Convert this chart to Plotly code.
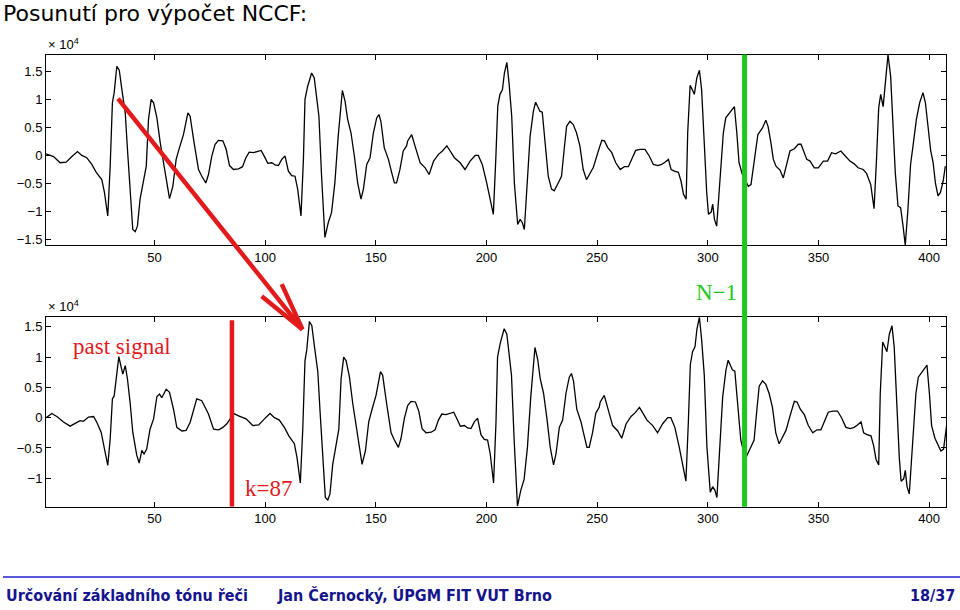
import plotly.graph_objects as go

# ---- data (amplitudes in units of 10^4) ----
K = 87  # shift between the two panels

# current frame (upper panel), sample index n and value
frame_n = [1, 4.4, 7.4, 10.1, 12.7, 15.2, 17.2, 19.4, 21.7, 23.7, 26.2, 27.4, 28.9, 30.0, 31.0, 31.8,
           33.0, 34.1, 35.3, 36.8, 37.8, 39.0, 40.2, 41.3, 42.3, 43.5, 45.0, 46.3, 47.3, 48.5, 49.6,
           51.1, 52.6, 54.1, 55.6, 56.8, 58.3, 59.8, 61.3, 63.1, 65.1, 66.1, 67.9, 69.9, 71.4, 73.2,
           74.4, 75.9, 77.4, 78.9, 80.9, 82.4, 83.9,
           85.7, 88.0, 89.8, 91.3, 92.8, 94.7, 96.7, 98.2, 99.7, 101.2, 103.0, 104.5, 106.0, 107.5,
           109.0, 110.5, 112.0, 113.5, 114.7, 116.2, 117.3, 118.0, 119.2, 121.0, 122.2, 123.3, 124.3,
           125.5, 127.0, 128.5, 130.0, 131.5, 133.0, 134.9, 136.1, 137.3, 138.8, 140.3, 141.8, 143.3,
           144.4, 145.9, 147.4, 148.9, 150.4, 151.4, 152.3, 153.8, 155.7, 157.2, 158.4, 159.4, 160.9,
           162.4, 163.9,
           164.4, 166.2, 167.7, 170.0, 172.3, 174.1, 176.1, 178.3, 180.1, 182.1, 183.6, 185.5, 188.1,
           190.3, 192.6, 194.9, 196.3, 198.1, 200.1, 201.6, 203.1, 204.2, 205.1, 206.1, 207.2, 208.1,
           209.2, 210.2, 211.4, 212.6, 214.1, 215.2, 216.2, 217.1, 218.2, 219.7, 221.2, 222.2, 223.4,
           224.1, 225.2, 226.4, 227.9, 229.4, 230.6, 232.4, 233.9, 235.1, 236.2, 237.7, 239.2, 240.7,
           242.2, 243.7, 245.2,
           246.5, 248.3, 250.3, 252.1, 253.3, 254.8, 256.6, 258.4, 260.4, 262.3, 264.1, 265.6, 267.4,
           269.4, 271.6, 273.4, 275.4, 277.4, 279.1, 280.6, 282.2, 283.4, 284.9, 286.7, 287.9, 289.0,
           290.2, 290.9, 292.0, 293.0, 293.9, 295.0, 296.2, 297.2, 298.4, 299.5, 300.3, 301.5, 302.2,
           303.0, 304.0, 304.8, 306.0, 307.0, 308.1, 309.3, 310.8, 312.0, 313.1, 314.1, 315.6, 317.2,
           318.3, 319.5, 321.1, 322.6, 323.6, 324.7, 326.2,
           327.2, 328.4, 329.6, 330.8, 332.6, 334.1, 335.6, 337.1, 339.1, 340.9, 342.1, 343.2, 344.7,
           346.2, 348.1, 349.9, 352.2, 354.1, 355.9, 357.7, 360.1, 361.9, 364.2, 366.1, 367.9, 370.2,
           371.7, 373.6, 375.1, 376.2, 377.2, 378.1, 379.2, 380.2, 381.4, 382.6, 383.7, 384.7, 385.9,
           387.1, 388.2, 389.2, 390.4, 391.6, 392.7, 394.2, 395.7, 397.2, 398.3, 399.5, 400.7, 401.8,
           402.8, 404.0, 405.1, 406.3, 407.3]
frame_v = [0.03, -0.02, -0.13, -0.12, -0.02, 0.07, 0.0, -0.04, -0.16, -0.30, -0.43, -0.66, -1.08, -0.19, 0.94, 1.12,
           1.59, 1.52, 1.17, 0.76, 0.11, -0.66, -1.32, -1.36, -1.26, -0.78, -0.49, -0.19, 0.64, 1.0, 0.94,
           0.67, 0.23, -0.13, -0.55, -0.77, -0.55, -0.07, 0.14, 0.37, 0.76, 0.70, 0.23, -0.25, -0.37, -0.49,
           -0.34, -0.01, 0.20, 0.27, 0.26, 0.11, -0.18,
           -0.25, -0.24, -0.20, -0.04, 0.06, 0.05, 0.08, 0.09, -0.02, -0.14, -0.13, -0.17, -0.18, -0.07,
           -0.01, -0.28, -0.36, -0.37, -0.60, -1.08, -0.07, 1.0, 1.23, 1.47, 1.38, 1.06, 0.70,
           -0.37, -1.46, -1.20, -1.02, -0.49, 0.34, 1.16, 0.97, 0.64, 0.40, -0.01, -0.49, -0.78,
           -0.60, -0.16, -0.04, 0.40, 0.67, 0.73, 0.61, 0.14, -0.07, -0.31, -0.49, -0.49, -0.25,
           0.08, 0.17,
           0.26, 0.37, 0.17, -0.13, -0.22, -0.34, -0.10, 0.02, 0.08, 0.17, 0.08, -0.04, -0.13,
           -0.25, -0.10, 0.0, 0.0, -0.16, -0.49, -0.78, -1.05, -0.07, 0.88, 1.09, 1.17, 1.47,
           1.66, 1.29, 0.70, -0.49, -1.23, -1.14, -1.20, -1.32, -0.60, 0.34, 0.79, 0.95, 0.85,
           0.79, 0.77, 0.23, -0.37, -0.60, -0.63, -0.49, -0.37, 0.11, 0.52, 0.61, 0.55, 0.40,
           0.17, -0.25, -0.43,
           -0.34, -0.21, 0.05, 0.27, 0.26, 0.14, 0.05, -0.13, -0.25, -0.20, -0.20, -0.06, 0.09,
           0.11, 0.11, 0.0, -0.16, -0.18, -0.16, -0.12, -0.07, -0.25, -0.28, -0.30, -0.46, -0.69,
           -0.78, 0.40, 1.25, 1.17, 1.09, 1.38, 1.52, 1.17, 0.11, -0.66, -1.05, -1.01, -0.87,
           -1.14, -1.26, -0.78, -0.07, 0.40, 0.67, 0.73, 0.79, 0.87, 0.40, -0.13, -0.34, -0.46,
           -0.55, -0.52, -0.07, 0.37, 0.43, 0.49, 0.63,
           0.52, 0.25, -0.07, -0.19, -0.26, -0.40, -0.16, 0.08, 0.12, 0.20, 0.20, 0.08, -0.07,
           -0.10, -0.22, -0.22, -0.10, -0.10, 0.05, 0.03, 0.08, 0.0, -0.10, -0.15, -0.22, -0.25,
           -0.32, -0.52, -0.95, -0.07, 0.85, 1.09, 0.87, 1.29, 1.80, 1.41, 0.58, -0.31, -0.90,
           -0.93, -1.26, -1.60, -0.96, -0.16, 0.17, 0.64, 0.94, 1.12, 0.94, 0.46, 0.08, -0.13,
           -0.49, -0.72, -0.66, -0.46, -0.19]

# past signal (lower panel, before the frame start)
past_n = [1.1, 3.6, 5.9, 8.9, 11.9, 14.2, 16.4, 17.9, 20.2, 22.5, 24.0, 25.9, 27.4, 28.9, 30.0, 31.0,
          31.8, 32.7, 33.9, 34.8, 35.7, 36.8, 37.8, 39.0, 40.2, 42.0, 43.1, 44.3, 45.3, 46.5, 48.0,
          49.6, 51.1, 52.3, 53.3, 55.3, 56.8, 58.6, 60.1, 62.4, 64.3, 66.1, 67.6, 69.1, 71.4, 72.9,
          74.4, 76.7, 79.0, 80.9, 82.7, 84.2, 85.7]
past_v = [0.0, 0.07, 0.02, -0.07, -0.14, -0.10, -0.05, -0.06, 0.01, 0.02, -0.08, -0.24, -0.49, -0.79, -0.35, 0.31,
          0.36, 0.69, 1.01, 0.86, 0.72, 0.86, 0.64, 0.25, -0.24, -0.62, -0.75, -0.54, -0.60, -0.52, -0.19,
          -0.02, 0.35, 0.39, 0.33, 0.47, 0.42, 0.14, -0.16, -0.22, -0.21, -0.08, 0.14, 0.31, 0.28, 0.17,
          0.06, -0.19, -0.20, -0.16, -0.10, -0.02, 0.07]

x_ticks = [50, 100, 150, 200, 250, 300, 350, 400]
y1_ticks = [1.5, 1, 0.5, 0, -0.5, -1, -1.5]
y1_text = ["1.5", "1", "0.5", "0", "\u22120.5", "\u22121", "\u22121.5"]
y2_ticks = [1.5, 1, 0.5, 0, -0.5, -1]
y2_text = ["1.5", "1", "0.5", "0", "\u22120.5", "\u22121"]

N_MINUS_1 = 316.6
K_LINE = 85

bottom_x = past_n + [n + K for n in frame_n]
bottom_y = past_v + frame_v

W, H = 960, 610
def px(x):
    return x / W
def py(y):
    return 1 - y / H

RED = "#e31a1c"
GREEN = "#1ec81e"
TICKFONT = dict(family="Liberation Sans, Arial, sans-serif", size=13, color="black")

fig = go.Figure()
fig.add_trace(go.Scatter(x=frame_n, y=frame_v, xaxis="x", yaxis="y", mode="lines",
                         line=dict(color="black", width=1.3), showlegend=False, hoverinfo="skip"))
fig.add_trace(go.Scatter(x=bottom_x, y=bottom_y, xaxis="x2", yaxis="y2", mode="lines",
                         line=dict(color="black", width=1.3), showlegend=False, hoverinfo="skip"))

axis_common = dict(showline=True, linecolor="black", linewidth=1, mirror="ticks", ticks="inside",
                   ticklen=5, tickcolor="black", showgrid=False, zeroline=False, tickfont=TICKFONT)

xdom = [px(46), px(946)]
fig.update_layout(
    width=W, height=H, autosize=False,
    margin=dict(l=0, r=0, t=0, b=0),
    paper_bgcolor="white", plot_bgcolor="white",
    xaxis=dict(domain=xdom, range=[1, 407.6], anchor="y", tickvals=x_ticks, **axis_common),
    yaxis=dict(domain=[py(246), py(54.7)], range=[-1.60, 1.80], anchor="x",
               tickvals=y1_ticks, ticktext=y1_text, **axis_common),
    xaxis2=dict(domain=xdom, range=[1, 407.6], anchor="y2", tickvals=x_ticks, **axis_common),
    yaxis2=dict(domain=[py(508.3), py(318.3)], range=[-1.47, 1.66], anchor="x2",
                tickvals=y2_ticks, ticktext=y2_text, **axis_common),
)

shapes = []
# arrow (shaft + open head)
tip = (302.5, 330.5)
for (x0, y0) in [(118, 99), (261.7, 297.3), (281.7, 285)]:
    shapes.append(dict(type="line", xref="paper", yref="paper", x0=px(x0), y0=py(y0),
                       x1=px(tip[0]), y1=py(tip[1]), line=dict(color=RED, width=4.5)))
# red k line in lower panel
shapes.append(dict(type="line", xref="x2", yref="y2", x0=K_LINE, x1=K_LINE, y0=-1.47, y1=1.61,
                   line=dict(color=RED, width=4.5)))
# green N-1 line across both panels
shapes.append(dict(type="line", xref="x", yref="paper", x0=N_MINUS_1, x1=N_MINUS_1,
                   y0=py(508.3), y1=py(54.7), line=dict(color=GREEN, width=5)))
# footer rule
shapes.append(dict(type="line", xref="paper", yref="paper", x0=px(3), x1=1, y0=py(579), y1=py(579),
                   line=dict(color="#5a5ad8", width=2)))
fig.update_layout(shapes=shapes)

SERIF = "Liberation Serif, Times New Roman, serif"
FOOT = dict(family="Liberation Sans Narrow, DejaVu Sans Condensed, Liberation Sans, sans-serif",
            size=16, color="#14148c", weight="bold")
ann = [
    dict(text="Posunutí pro výpočet NCCF:", x=px(1), y=py(14), xanchor="left", yanchor="middle",
         font=dict(family="DejaVu Sans, sans-serif", size=22, color="black")),
    dict(text="× 10<sup>4</sup>", x=px(46), y=py(44), xanchor="left", yanchor="middle", font=TICKFONT),
    dict(text="× 10<sup>4</sup>", x=px(46), y=py(307), xanchor="left", yanchor="middle", font=TICKFONT),
    dict(text="past signal", x=px(121.7), y=py(348), xanchor="center", yanchor="middle",
         font=dict(family=SERIF, size=23, color=RED)),
    dict(text="k=87", x=px(268), y=py(490), xanchor="center", yanchor="middle",
         font=dict(family=SERIF, size=23, color=RED)),
    dict(text="N\u22121", x=px(716), y=py(293), xanchor="center", yanchor="middle",
         font=dict(family=SERIF, size=23, color=GREEN)),
    dict(text="Určování základního tónu řeči", x=px(4), y=py(597), xanchor="left", yanchor="middle", font=FOOT),
    dict(text="Jan Černocký, ÚPGM FIT VUT Brno", x=px(275), y=py(597), xanchor="left", yanchor="middle", font=FOOT),
    dict(text="18/37", x=px(957), y=py(597), xanchor="right", yanchor="middle", font=FOOT),
]
for a in ann:
    a.update(xref="paper", yref="paper", showarrow=False)
fig.update_layout(annotations=ann)

fig.write_html("out.html")
